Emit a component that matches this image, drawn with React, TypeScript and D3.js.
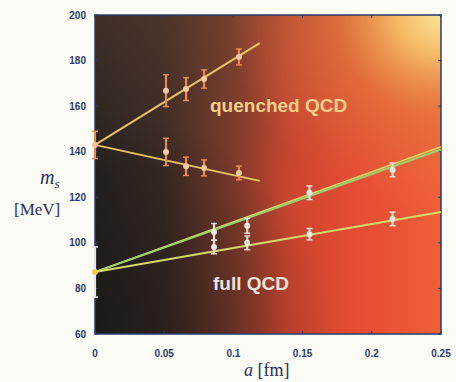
import React from "react";
import * as d3 from "d3";

const xTicks = [0, 0.05, 0.1, 0.15, 0.2, 0.25];
const yTicks = [60, 80, 100, 120, 140, 160, 180, 200];

// quenched QCD
const qUpA = [0.0513, 0.0658, 0.0788, 0.104];
const qUpM = [166.8, 167.5, 171.9, 181.6];
const qUpE = [7, 5, 4, 3.5];
const qLoA = [0.0513, 0.0658, 0.0788, 0.104];
const qLoM = [139.9, 133.6, 132.9, 130.7];
const qLoE = [6, 4, 3.5, 3];
const qZero = { a: 0, m: 143, e: 6 };
const qUpLine = [[0, 143], [0.119, 187.7]];
const qLoLine = [[0, 143], [0.119, 127.2]];

// full QCD
const fUpA = [0.086, 0.11, 0.155, 0.215];
const fUpM = [104.8, 107.5, 122, 132];
const fUpE = [3.7, 3.3, 3, 3];
const fLoA = [0.086, 0.11, 0.155, 0.215];
const fLoM = [98.2, 100, 103.8, 110.5];
const fLoE = [3, 3, 2.5, 3];
const fZero = { a: 0, m: 87.2, e: 11 };
const fUpLine = [[0, 87.2], [0.25, 141]];
const fUpLine2 = [[0, 87.2], [0.25, 142.2]];
const fLoLine = [[0, 87.2], [0.25, 113.5]];

const L = 95, R = 441, T = 15, B = 334;

export default function App() {
  const x = d3.scaleLinear().domain([0, 0.25]).range([L, R]);
  const y = d3.scaleLinear().domain([60, 200]).range([B, T]);
  const line = d3.line<number[]>().x((d) => x(d[0])).y((d) => y(d[1]));
  const navy = "#2b3a6a";

  const pts = (A: number[], M: number[], E: number[], col: string, dot: string, key: string) =>
    A.map((a, i) => (
      <g key={key + i}>
        <line x1={x(a)} x2={x(a)} y1={y(M[i] - E[i])} y2={y(M[i] + E[i])} stroke={col} strokeWidth={2.2} />
        <line x1={x(a) - 3} x2={x(a) + 3} y1={y(M[i] - E[i])} y2={y(M[i] - E[i])} stroke={col} strokeWidth={1.5} />
        <line x1={x(a) - 3} x2={x(a) + 3} y1={y(M[i] + E[i])} y2={y(M[i] + E[i])} stroke={col} strokeWidth={1.5} />
        <circle cx={x(a)} cy={y(M[i])} r={3} fill={dot} />
      </g>
    ));

  return (
    <svg width={456} height={382} style={{ position: "absolute", left: 0, top: 0, background: "#fbfbf6" }}>
      <defs>
        <linearGradient id="bgH" x1="0" y1="0" x2="1" y2="0">
          <stop offset="0" stopColor="#26221f" />
          <stop offset="0.2" stopColor="#3a2a24" />
          <stop offset="0.4" stopColor="#7e3a2a" />
          <stop offset="0.56" stopColor="#cc452e" />
          <stop offset="0.76" stopColor="#e64c32" />
          <stop offset="1" stopColor="#ee6038" />
        </linearGradient>
        <radialGradient id="bgY" cx="1" cy="0" r="0.62" gradientUnits="objectBoundingBox">
          <stop offset="0" stopColor="#fbe59a" stopOpacity="1" />
          <stop offset="0.2" stopColor="#f8c068" stopOpacity="0.95" />
          <stop offset="0.5" stopColor="#f2843f" stopOpacity="0.55" />
          <stop offset="1" stopColor="#ee6a3e" stopOpacity="0" />
        </radialGradient>
        <radialGradient id="bgD" cx="0" cy="1" r="0.7" gradientUnits="objectBoundingBox">
          <stop offset="0" stopColor="#121212" stopOpacity="0.55" />
          <stop offset="1" stopColor="#121212" stopOpacity="0" />
        </radialGradient>
        <linearGradient id="bgT" x1="0" y1="0" x2="0" y2="1">
          <stop offset="0" stopColor="#6a4a36" stopOpacity="0.35" />
          <stop offset="0.5" stopColor="#6a4a36" stopOpacity="0" />
        </linearGradient>
      </defs>
      <rect x={L} y={T} width={R - L} height={B - T} fill="url(#bgH)" />
      <rect x={L} y={T} width={R - L} height={B - T} fill="url(#bgT)" />
      <rect x={L} y={T} width={R - L} height={B - T} fill="url(#bgD)" />
      <rect x={L} y={T} width={R - L} height={B - T} fill="url(#bgY)" />
      <rect x={L} y={T} width={R - L} height={B - T} fill="none" stroke={navy} strokeWidth={1.5} />

      {xTicks.map((t) => (
        <g key={"xt" + t}>
          <line x1={x(t)} x2={x(t)} y1={T} y2={T + 3} stroke={navy} />
          <line x1={x(t)} x2={x(t)} y1={B} y2={B - 3} stroke={navy} />
          <text x={x(t)} y={357} textAnchor="middle" fontFamily="Liberation Sans, Arial" fontWeight="bold" fontSize={10} fill={navy}>
            {t === 0 ? "0" : String(t)}
          </text>
        </g>
      ))}
      {yTicks.map((t) => (
        <g key={"yt" + t}>
          <line x1={L} x2={L + 3} y1={y(t)} y2={y(t)} stroke={navy} />
          <line x1={R} x2={R - 3} y1={y(t)} y2={y(t)} stroke={navy} />
          <text x={86} y={y(t) + 3.5} textAnchor="end" fontFamily="Liberation Sans, Arial" fontWeight="bold" fontSize={10} fill={navy}>
            {t}
          </text>
        </g>
      ))}

      {/* quenched lines */}
      <path d={line(qUpLine)!} stroke="#e8c466" strokeWidth={2} fill="none" />
      <path d={line(qLoLine)!} stroke="#e8c466" strokeWidth={2} fill="none" />
      {/* full lines */}
      <path d={line(fUpLine2)!} stroke="#e2d66a" strokeWidth={1.5} fill="none" />
      <path d={line(fUpLine)!} stroke="#9dd06c" strokeWidth={2} fill="none" />
      <path d={line(fLoLine)!} stroke="#d6d86c" strokeWidth={2} fill="none" />

      {pts(qUpA, qUpM, qUpE, "#e98a55", "#f6c8a0", "qu")}
      {pts(qLoA, qLoM, qLoE, "#e98a55", "#f6c8a0", "ql")}
      {pts([qZero.a], [qZero.m], [qZero.e], "#e98a55", "#f6c090", "qz")}
      {pts(fUpA, fUpM, fUpE, "#e2dcd6", "#eeeae4", "fu")}
      {pts(fLoA, fLoM, fLoE, "#e2dcd6", "#eeeae4", "fl")}
      {pts([fZero.a], [fZero.m], [fZero.e], "#e8e4e0", "#f2d050", "fz")}

      <text x={210} y={112} fontFamily="Liberation Sans, Arial" fontWeight="bold" fontSize={19} fill="#f5cf8a">
        quenched QCD
      </text>
      <text x={213} y={290} fontFamily="Liberation Sans, Arial" fontWeight="bold" fontSize={19} fill="#ebe4dc">
        full QCD
      </text>

      <text x={40} y={184} fontFamily="Liberation Serif, Times New Roman" fontStyle="italic" fontSize={20} fill="#2a2f5a">
        m
        <tspan fontSize={13} dy={4}>s</tspan>
      </text>
      <text x={14} y={215} fontFamily="Liberation Serif, Times New Roman" fontSize={17} fill="#2a2f5a">
        [MeV]
      </text>
      <text x={244} y={376} fontFamily="Liberation Serif, Times New Roman" fontSize={18} fill="#2a2f5a">
        <tspan fontStyle="italic">a</tspan> [fm]
      </text>
    </svg>
  );
}
